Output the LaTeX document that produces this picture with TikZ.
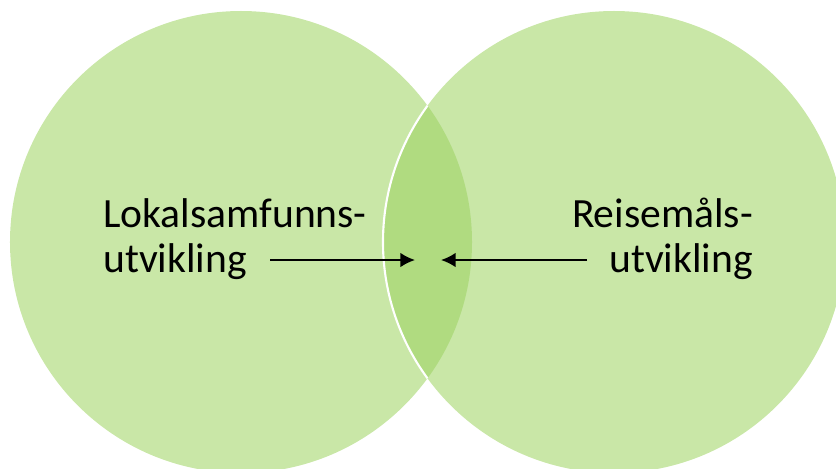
\documentclass[tikz,border=0pt]{standalone}
\usepackage{fontspec}
\setmainfont{Carlito}
\usetikzlibrary{arrows.meta}
\definecolor{lysgronn}{RGB}{201,231,167}
\definecolor{snittgronn}{RGB}{176,219,128}
\begin{document}
\begin{tikzpicture}[x=0.03cm,y=-0.03cm,
  tekst/.style={inner sep=0pt,font=\fontsize{35.5}{38}\selectfont},
  pil/.style={line width=1.7pt,-{Latex[length=12.5pt,width=12.5pt]}}]
\useasboundingbox (0,0) rectangle (836,468);
\clip (0,0) rectangle (836,468);
\coordinate (venstre) at (241,242);
\coordinate (hoyre) at (614,242);
% the two circles
\fill[lysgronn] (venstre) circle[radius=6.93cm];
\fill[lysgronn] (hoyre) circle[radius=6.93cm];
% overlap
\begin{scope}
\clip (venstre) circle[radius=6.93cm];
\fill[snittgronn] (hoyre) circle[radius=6.93cm];
\draw[white,line width=1.8pt] (hoyre) circle[radius=6.93cm];
\end{scope}
% texts
\node[tekst,anchor=base west] (lokal) at (103,227) {Lokalsamfunns-};
\node[tekst,anchor=base west] (utvL) at (103,272) {utvikling};
\node[tekst,anchor=base east] (reise) at (753,227) {Reisemåls-};
\node[tekst,anchor=base east] (utvR) at (753,272) {utvikling};
% arrows
\coordinate (haleL) at (270,260);
\coordinate (spissL) at (415,260);
\coordinate (haleR) at (587,260);
\coordinate (spissR) at (441,260);
\draw[pil] (haleL) -- (spissL);
\draw[pil] (haleR) -- (spissR);
\end{tikzpicture}
\end{document}
